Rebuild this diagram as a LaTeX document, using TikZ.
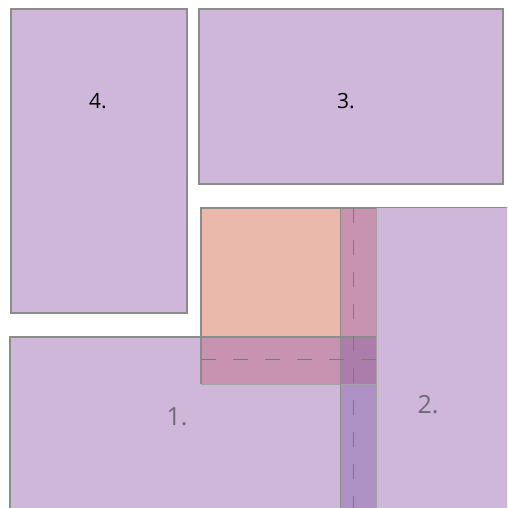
\documentclass[tikz,border=0pt]{standalone}
\usepackage{fontspec}
\setmainfont{Open Sans}
\definecolor{pu}{HTML}{CEB7D8}
\definecolor{orr}{HTML}{EBB9AB}
\definecolor{pk}{HTML}{C893B0}
\definecolor{tri}{HTML}{AC7CAA}
\definecolor{strip}{HTML}{AE91C4}
\definecolor{bd}{HTML}{8C8C8C}
\definecolor{lbl}{HTML}{6F6878}
\tikzset{
  box/.style={fill=pu, draw=bd, line width=1.2pt},
  edge/.style={draw=bd!80, line width=0.8pt},
  guide/.style={draw=lbl!90, line width=1pt, dash pattern=on 15pt off 17pt},
  biglbl/.style={font=\fontsize{21}{25}\selectfont, text=black},
  greylbl/.style={font=\fontsize{25}{29}\selectfont, text=lbl}
}
\begin{document}
\begin{tikzpicture}[x=1pt,y=-1pt]
\useasboundingbox (0,0) rectangle (507,508);
\clip (0,0) rectangle (507,508);
% rectangles 4 and 3
\draw[box] (11,9) rectangle (187,313);
\draw[box] (199,9) rectangle (503,184);
% rectangle 2 and 1
\draw[box] (340.5,207.5) rectangle (520,520);
\draw[box] (10,337) rectangle (376,520);
% orange square and overlaps
\fill[orr] (201,208) rectangle (376,384);
\fill[pk] (340.5,208) rectangle (376,337);
\fill[pk] (201,337) rectangle (340.5,384);
\fill[tri] (340.5,337) rectangle (376,384);
\fill[strip] (340.5,384) rectangle (376,520);
% edges
\draw[edge] (201,384) -- (376,384) -- (376,208);
\draw[edge] (376,384) -- (376,520);
\draw[box, fill=none] (201,384) -- (201,208) -- (376,208);
\draw[box, fill=none] (10,337) -- (376,337);
\draw[box, fill=none] (340.5,207.5) -- (340.5,520);
% guides
\coordinate (vg1) at (353,208);
\coordinate (vg2) at (353,520);
\coordinate (hg1) at (201,359);
\coordinate (hg2) at (376,359);
\draw[guide] (vg1) -- (vg2);
\draw[guide] (hg1) -- (hg2);
% labels
\node[biglbl] (l4) at (98,101) {4.};
\node[biglbl] (l3) at (346,101) {3.};
\node[greylbl] (l1) at (177,417) {1.};
\node[greylbl] (l2) at (428,405) {2.};
\end{tikzpicture}
\end{document}
